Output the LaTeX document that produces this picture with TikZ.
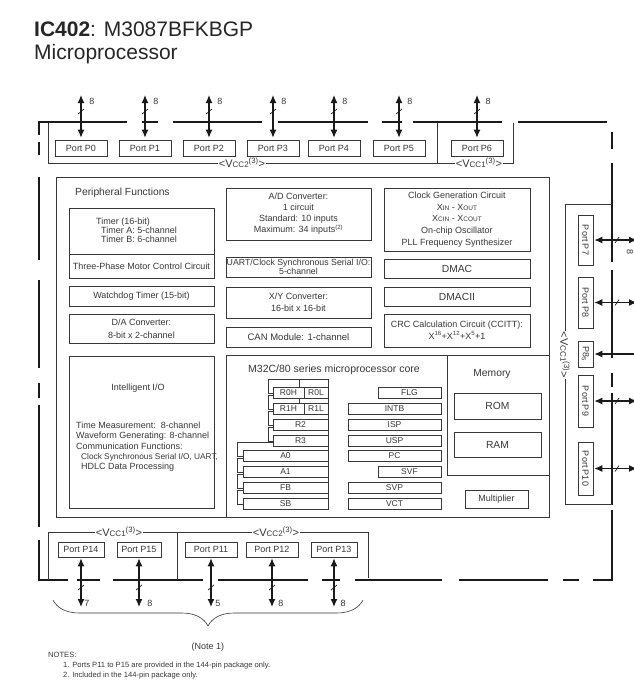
\documentclass[tikz,border=0pt]{standalone}
\usepackage{fontspec}
\setmainfont{Liberation Sans}
\usetikzlibrary{arrows.meta,decorations.pathreplacing}
\definecolor{ink}{HTML}{383838}
\definecolor{bus}{HTML}{1A1A1A}
\newcommand{\fs}[2]{\fontsize{#1}{#2}\selectfont}
\newcommand{\vccl}[1]{<V{\fs{8}{8}CC#1}\textsuperscript{(3)}>}
\newcommand{\smc}[1]{{\fs{6.5}{7}#1}}
\newcommand{\bx}[7][]{\node[box,minimum width=#5-#3,minimum height=#6-#4,#1] (#2) at ({(#3+#5)/2},{(#4+#6)/2}) {#7};}
\tikzset{
  box/.style={draw=ink,line width=0.6pt,fill=white,inner sep=0pt,align=center,text=ink,font=\fs{9}{11}},
  lbl/.style={inner sep=0pt,text=ink},
  busline/.style={draw=bus,line width=1.7pt},
  bi/.style={{Latex[length=8pt,width=7pt]}-{Latex[length=8pt,width=7pt]},line width=1.2pt,draw=bus},
  uni/.style={-{Latex[length=8pt,width=7pt]},line width=1.2pt,draw=bus},
  tickmark/.style={draw=bus,line width=0.7pt},
  vlab/.style={fill=white,inner sep=1.2pt,text=ink,font=\fs{11}{11}},
  bracket/.style={draw=ink,line width=0.7pt},
  reg/.style={box,font=\fs{8.5}{9}},
  shadowbox/.style={draw=ink,line width=0.5pt,fill=white},
}
\begin{document}
\begin{tikzpicture}[x=1pt,y=-1pt]
\useasboundingbox (0,0) rectangle (633,681);
\fill[white] (0,0) rectangle (633,681);

% ---------- title
\node[lbl,anchor=base west,font=\fs{21}{25},text=black!85] (title1) at (34,36) {\textbf{IC402}: M3087BFKBGP};
\node[lbl,anchor=base west,font=\fs{21}{25},text=black!85] (title2) at (34,59) {Microprocessor};

% ---------- outer dashed bus frame
\draw[busline] (39,135) -- (39,122) -- (127,122);
\draw[busline] (142,122) -- (158,122);
\draw[busline] (173,122) -- (262,122);
\draw[busline] (278,122) -- (368,122);
\draw[busline] (382,122) -- (402,122);
\draw[busline] (413,122) -- (502,122);
\draw[busline] (518,122) -- (607,122);
% left
\draw[busline] (39,142) -- (39,155);
\draw[busline] (39,177) -- (39,260);
\draw[busline] (39,280) -- (39,368);
\draw[busline] (39,383) -- (39,398);
\draw[busline] (39,405) -- (39,527);
\draw[busline] (39,540) -- (39,580) -- (68,580);
% bottom
\draw[busline] (77,580) -- (100,580);
\draw[busline] (113,580) -- (203,580);
\draw[busline] (218,580) -- (308,580);
\draw[busline] (322,580) -- (340,580);
\draw[busline] (355,580) -- (442,580);
\draw[busline] (459,580) -- (548,580);
\draw[busline] (563,580) -- (579,580);
\draw[busline] (593,580) -- (612,580) -- (612,510);
% right
\draw[busline] (612,132) -- (612,149);
\draw[busline] (612,163) -- (612,262);
\draw[busline] (612,270) -- (612,358);
\draw[busline] (612,373) -- (612,387);
\draw[busline] (612,393) -- (612,505);

% ---------- Vcc brackets
\draw[bracket] (48,123) -- (48,163) -- (437,163) -- (437,123);
\draw[bracket] (437,163) -- (513,163) -- (513,123);
\node[vlab] (vcc2t) at (242,163) {\vccl{2}};
\node[vlab] (vcc1t) at (479,163) {\vccl{1}};
\draw[bracket] (612,204) -- (565,204) -- (565,504) -- (612,504);
\node[vlab,rotate=-90] (vcc1r) at (565,355) {\vccl{1}};
\draw[bracket] (48,580) -- (48,532) -- (368,532) -- (368,578);
\draw[bracket] (177,532) -- (177,580);
\node[vlab] (vcc1b) at (119,532) {\vccl{1}};
\node[vlab] (vcc2b) at (276,532) {\vccl{2}};

% ---------- top ports
\bx{P0}{55}{140}{107}{156}{Port P0}
\bx{P1}{119}{140}{171}{156}{Port P1}
\bx{P2}{183}{140}{235}{156}{Port P2}
\bx{P3}{247}{140}{299}{156}{Port P3}
\bx{P4}{308}{140}{360}{156}{Port P4}
\bx{P5}{373}{140}{425}{156}{Port P5}
\bx{P6}{451}{140}{503}{156}{Port P6}
\coordinate (tt) at (0,95);
\foreach \n in {P0,P1,P2,P3,P4,P5,P6}
  \draw[bi,shorten >=2pt] (\n.north |- tt) -- (\n.north);
\foreach \x [count=\i] in {81,145,209,273,334,399,477}{
  \draw[tickmark] (\x-3,114) -- (\x+3,109);
  \node[lbl,font=\fs{9}{9}] (t8\i) at (\x+11,101) {8};
}

% ---------- right ports
\node[box,rotate=-90,minimum width=50,minimum height=15] (P7) at (585.5,240) {Port P7};
\node[box,rotate=-90,minimum width=51,minimum height=15] (P8) at (585.5,302.5) {Port P8};
\node[box,rotate=-90,minimum width=26,minimum height=15] (P85) at (585.5,354) {P8\textsubscript{5}};
\node[box,rotate=-90,minimum width=52,minimum height=15] (P9) at (585.5,401) {Port P9};
\node[box,rotate=-90,minimum width=53,minimum height=15] (P10) at (585.5,468.5) {Port P10};
\coordinate (rx) at (637,0);
\foreach \n in {P7,P8,P9,P10}
  \draw[bi,shorten <=1pt] (\n.north) -- (\n.north -| rx);
\draw[uni,shorten >=1pt] (P85.north -| rx) -- (P85.north);
\foreach \y in {240,302.5,401,468.5}
  \draw[tickmark] (615,\y+3) -- (619,\y-3);
\node[lbl,rotate=-90,font=\fs{9}{9}] (r8) at (630,252) {8};

% ---------- bottom ports
\bx{P14}{58}{542}{104}{557}{Port P14}
\bx{P15}{117}{542}{161}{557}{Port P15}
\bx{P11}{185}{542}{237}{557}{Port P11}
\bx{P12}{246}{542}{298}{557}{Port P12}
\bx{P13}{311}{542}{357}{557}{Port P13}
\coordinate (bb) at (0,607);
\foreach \n in {P14,P15,P11,P12,P13}
  \draw[bi,shorten <=1pt] (\n.south) -- (\n.south |- bb);
\foreach \x/\t/\lx [count=\i] in {81/7/87,139/8/150,211/5/218,272/8/281,334/8/343}{
  \draw[tickmark] (\x-3,590) -- (\x+3,585);
  \node[lbl,font=\fs{9}{9}] (b8\i) at (\lx,603) {\t};
}
\coordinate (brl) at (53,600);
\coordinate (brr) at (363,600);
\draw[ink,line width=0.6pt,decorate,decoration={brace,mirror,amplitude=26pt}] (brl) -- (brr);
\node[lbl,font=\fs{9}{9}] (note1) at (208,647) {(Note 1)};
\node[lbl,anchor=base west,font=\fs{7.6}{8}] (notes) at (48,657) {NOTES:};
\node[lbl,anchor=base west,font=\fs{7.6}{8}] (n1) at (63,667) {1. Ports P11 to P15 are provided in the 144-pin package only.};
\node[lbl,anchor=base west,font=\fs{7.6}{8}] (n2) at (63,677) {2. Included in the 144-pin package only.};

% ---------- peripheral block
\bx[line width=0.7pt]{periph}{56}{177}{549}{517}{}
\node[lbl,anchor=west,font=\fs{10.3}{11}] (pftitle) at (75,193) {Peripheral Functions};
\bx{timer}{69}{208}{214}{254}{}
\node[lbl,anchor=north west,align=left,font=\fs{9}{9}] (timertxt) at (96,218) {Timer (16-bit)\\\hspace*{5pt}Timer A: 5-channel\\\hspace*{5pt}Timer B: 6-channel};
\bx{threeph}{69}{254}{214}{278}{Three-Phase Motor Control Circuit}
\bx{wdt}{69}{286}{214}{306}{Watchdog Timer (15-bit)}
\bx[font=\fs{9}{13}]{da}{69}{314}{214}{343}{D/A Converter:\\8-bit x 2-channel}
\bx{iio}{69}{356}{214}{508}{}
\node[lbl,font=\fs{9}{9}] (iiotitle) at (138,388) {Intelligent I/O};
\node[lbl,anchor=north west,align=left,font=\fs{9}{10.2}] (iiotxt) at (76,422) {Time Measurement:\ \ 8-channel\\Waveform Generating: 8-channel\\Communication Functions:\\\hspace*{5pt}{\fs{8.3}{10.2}Clock Synchronous Serial I/O, UART,}\\\hspace*{5pt}HDLC Data Processing};

\bx[font=\fs{9}{11}]{ad}{226}{188}{371}{240}{A/D Converter:\\1 circuit\\Standard: 10 inputs\\Maximum: 34 inputs\textsuperscript{(2)}}
\bx[font=\fs{8.8}{8.2}]{uart}{226}{257}{371}{277}{UART/Clock Synchronous Serial I/O:\\5-channel}
\bx[font=\fs{9}{12.5}]{xy}{226}{287}{371}{318}{X/Y Converter:\\16-bit x 16-bit}
\bx[font=\fs{9.5}{10}]{can}{226}{327}{371}{347}{CAN Module: 1-channel}

\bx[font=\fs{9}{11.6}]{clk}{384}{188}{530}{251}{Clock Generation Circuit\\X\smc{IN} - X\smc{OUT}\\X\smc{CIN} - X\smc{COUT}\\On-chip Oscillator\\PLL Frequency Synthesizer}
\bx[font=\fs{10.3}{11}]{dmac}{384}{259}{530}{278}{DMAC}
\bx[font=\fs{10.3}{11}]{dmac2}{384}{287}{530}{306}{DMACII}
\bx[font=\fs{9}{12}]{crc}{384}{314}{530}{347}{CRC Calculation Circuit (CCITT):\\X\textsuperscript{16}+X\textsuperscript{12}+X\textsuperscript{5}+1}

% ---------- core
\bx[line width=0.7pt]{core}{226}{355}{549}{517}{}
\bx[line width=0.7pt]{mem}{447}{355}{549}{475}{}
\node[lbl,font=\fs{10.5}{11}] (coretitle) at (334,370) {M32C/80 series microprocessor core};
\node[lbl,font=\fs{10.3}{11}] (memtitle) at (492,374) {Memory};
\bx[font=\fs{10.3}{11}]{rom}{454}{393}{541}{419}{ROM}
\bx[font=\fs{10.3}{11}]{ram}{454}{432}{541}{457}{RAM}
\bx[font=\fs{9}{10}]{mul}{465}{490}{528}{508}{Multiplier}

% register bank shadows
\foreach \y in {387,403,419,435}
  \draw[shadowbox] (268,\y-8) rectangle (328,\y+6);
\foreach \y in {387,403}
  \draw[ink,line width=0.5pt] (299,\y-8) -- (299,\y);
\foreach \y in {450.5,466.5,482.5,498.5}
  \draw[shadowbox] (237,\y-8) rectangle (328,\y+6);

% registers
\bx[reg]{r0h}{273}{387}{304}{398}{R0H}
\bx[reg]{r0l}{304}{387}{328}{398}{R0L}
\bx[reg]{r1h}{273}{403}{304}{414}{R1H}
\bx[reg]{r1l}{304}{403}{328}{414}{R1L}
\bx[reg]{r2}{273}{419}{328}{430}{R2}
\bx[reg]{r3}{273}{435}{328}{446}{R3}
\bx[reg]{a0}{243}{450.5}{328}{461.5}{A0}
\bx[reg]{a1}{243}{466.5}{328}{477.5}{A1}
\bx[reg]{fb}{243}{482.5}{328}{493.5}{FB}
\bx[reg]{sb}{243}{498.5}{328}{509.5}{SB}
\bx[reg]{flg}{378}{387}{441}{398}{FLG}
\bx[reg]{intb}{348}{403}{441}{414}{INTB}
\bx[reg]{isp}{348}{419}{441}{430}{ISP}
\bx[reg]{usp}{348}{435}{441}{446}{USP}
\bx[reg]{pc}{348}{450.5}{441}{461.5}{PC}
\bx[reg]{svf}{378}{466.5}{441}{477.5}{SVF}
\bx[reg]{svp}{348}{482.5}{441}{493.5}{SVP}
\bx[reg]{vct}{348}{498.5}{441}{509.5}{VCT}
\end{tikzpicture}
\end{document}
